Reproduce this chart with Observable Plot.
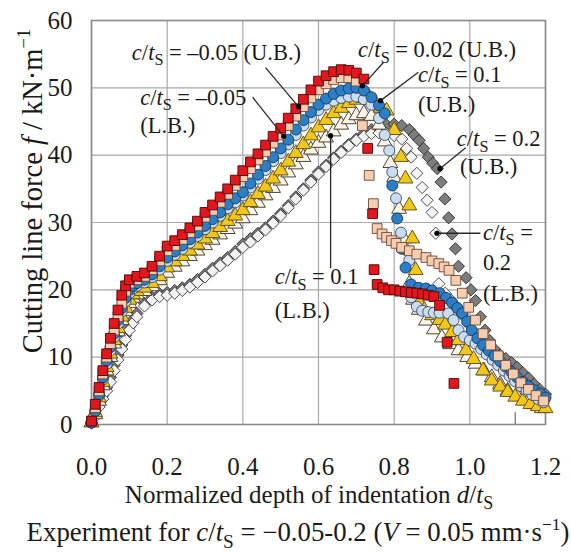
<!DOCTYPE html>
<html><head><meta charset="utf-8">
<script src="https://cdn.jsdelivr.net/npm/d3@7"></script>
<script src="https://cdn.jsdelivr.net/npm/@observablehq/plot@0.6"></script>
<style>body{margin:0;background:#fff}text{white-space:pre}</style>
</head><body><div id="chart"></div>
<script>
// ---- axis ticks ----
const xTicks = [0, 0.2, 0.4, 0.6, 0.8, 1.0, 1.2];
const yTicks = [0, 10, 20, 30, 40, 50, 60];

// ---- series values: [d/tS, f (kN/m)] ----
const ubNeg005 = [[0,0.5],[0.01,3],[0.02,5.5],[0.03,8],[0.04,10.5],[0.05,12.8],[0.06,15],[0.07,17],[0.08,19.2],[0.09,20.6],[0.1,21.5],[0.12,22],[0.14,22.5],[0.16,23.5],[0.18,25],[0.2,26.5],[0.22,27.3],[0.24,28.2],[0.26,29.2],[0.28,30.2],[0.3,31.5],[0.32,32.6],[0.34,33.8],[0.36,35],[0.38,36.3],[0.4,37.7],[0.42,39],[0.44,40.2],[0.46,41.5],[0.48,42.8],[0.5,44],[0.52,45.5],[0.54,46.9],[0.56,48.3],[0.58,49.7],[0.6,51],[0.62,51.8],[0.64,52.4],[0.66,52.7],[0.68,52.6],[0.7,52.2],[0.72,51.3],[0.73,41],[0.743,31.3],[0.747,23],[0.755,20.8],[0.77,20.3],[0.785,20],[0.8,20],[0.815,19.8],[0.83,19.7],[0.845,19.6],[0.86,19.5],[0.875,19.4],[0.89,19.2],[0.905,19],[0.92,17.7],[0.94,12.2],[0.958,6.1]];
const lbNeg005 = [[0,0.5],[0.01,2.5],[0.02,5],[0.03,7.5],[0.04,10],[0.05,12],[0.06,14],[0.07,16],[0.08,18],[0.09,19.8],[0.1,21],[0.12,21.5],[0.14,22],[0.16,23],[0.18,24.3],[0.2,25.8],[0.22,26.6],[0.24,27.5],[0.26,28.5],[0.28,29.5],[0.3,30.8],[0.32,31.8],[0.34,33],[0.36,34.2],[0.38,35.5],[0.4,36.8],[0.42,38],[0.44,39.3],[0.46,40.5],[0.48,41.8],[0.5,43],[0.52,44.4],[0.54,45.8],[0.56,47.2],[0.58,48.5],[0.6,49.7],[0.62,50.6],[0.64,51.2],[0.66,51.5],[0.68,51.5],[0.7,51],[0.716,44.4],[0.734,37],[0.745,32.8],[0.755,29.1],[0.768,28.3],[0.78,27.8],[0.793,27.3],[0.805,26.9],[0.82,26.3],[0.84,25.8],[0.86,25.3],[0.884,24.8],[0.9,24.3],[0.918,23.9],[0.932,23.4],[0.945,22.9],[0.963,21.4],[0.98,19.5],[0.997,17.4],[1.015,15.5],[1.035,13.5],[1.055,11.8],[1.075,10.2],[1.095,8.8],[1.115,7.5],[1.135,6.2],[1.155,5.2],[1.175,4.3],[1.195,3.5]];
const ub002 = [[0,0.3],[0.01,2],[0.02,4.5],[0.03,7],[0.04,9.5],[0.05,11.5],[0.06,13.5],[0.07,15.5],[0.08,17.3],[0.09,18.8],[0.1,20],[0.11,20.6],[0.12,21],[0.14,21.5],[0.16,22.3],[0.18,23.5],[0.2,24.8],[0.22,25.7],[0.24,26.6],[0.26,27.5],[0.28,28.5],[0.3,29.5],[0.32,30.5],[0.34,31.5],[0.36,32.7],[0.38,33.6],[0.4,34.5],[0.42,35.8],[0.44,37.1],[0.46,38.4],[0.48,39.7],[0.5,41],[0.52,42.3],[0.54,43.8],[0.56,45.2],[0.58,46.4],[0.6,47.5],[0.62,48.4],[0.64,49.1],[0.66,49.6],[0.68,49.9],[0.7,50],[0.72,49.6],[0.74,48.6],[0.76,47.4],[0.775,46.2],[0.795,35.5],[0.808,30.6],[0.82,26.1],[0.83,23.3],[0.845,20.8],[0.865,20.3],[0.884,20.2],[0.9,19.9],[0.92,19.5],[0.937,18.8],[0.953,18.1],[0.967,17.3],[0.98,16.5],[0.993,15.3],[1.005,14],[1.02,12.8],[1.035,11.8],[1.05,11],[1.065,10.2],[1.08,9.4],[1.095,8.6],[1.11,7.8],[1.125,7],[1.14,6.3],[1.155,5.7],[1.17,5.1],[1.185,4.6],[1.2,4]];
const lb002 = [[0,0.3],[0.01,2],[0.02,4.3],[0.03,6.7],[0.04,9],[0.05,11],[0.06,13],[0.07,15],[0.08,16.8],[0.09,18.3],[0.1,19.5],[0.11,20.2],[0.12,20.6],[0.14,21.1],[0.16,21.9],[0.18,23],[0.2,24.3],[0.22,25.2],[0.24,26.1],[0.26,27],[0.28,28],[0.3,29],[0.32,30],[0.34,31],[0.36,32.1],[0.38,33],[0.4,34],[0.42,35.2],[0.44,36.5],[0.46,37.8],[0.48,39.1],[0.5,40.3],[0.52,41.6],[0.54,43],[0.56,44.4],[0.58,45.6],[0.6,46.7],[0.62,47.5],[0.64,48.1],[0.66,48.5],[0.68,48.7],[0.7,48.7],[0.72,48.3],[0.74,47.5],[0.76,45.5],[0.775,43],[0.787,40.7],[0.795,37.5],[0.805,33.6],[0.818,28.5],[0.83,26],[0.84,24.4],[0.845,18.9],[0.86,17.5],[0.874,16.9],[0.89,16.7],[0.905,16.6],[0.92,16.6],[0.943,16.5],[0.957,15.5],[0.97,14],[0.985,13],[1,12.5],[1.015,12],[1.03,11.2],[1.045,10.4],[1.06,9.6],[1.075,8.8],[1.09,8],[1.105,7.2],[1.12,6.4],[1.135,5.7],[1.15,5],[1.165,4.4],[1.18,3.8],[1.195,3.3]];
const ub01 = [[0,0.3],[0.01,1.8],[0.02,4],[0.03,6.3],[0.04,8.5],[0.05,10.5],[0.06,12.5],[0.07,14.3],[0.08,16],[0.09,17.3],[0.1,18.5],[0.11,19.3],[0.12,19.8],[0.14,20.3],[0.16,21],[0.18,22],[0.2,23.3],[0.22,24.2],[0.24,25],[0.26,25.8],[0.28,26.7],[0.3,27.6],[0.32,28.4],[0.34,29.3],[0.36,30.2],[0.38,31],[0.4,31.8],[0.42,33],[0.44,34.2],[0.46,35.3],[0.48,36.5],[0.5,37.7],[0.52,39],[0.54,40.3],[0.56,41.6],[0.58,42.9],[0.6,44.1],[0.62,45.2],[0.64,46.2],[0.66,47],[0.68,47.7],[0.7,48.2],[0.72,48.5],[0.735,48.5],[0.75,47.8],[0.765,47],[0.78,46.6],[0.8,43.7],[0.818,39.7],[0.83,36.5],[0.84,32.5],[0.848,27.6],[0.857,22.9],[0.866,18.1],[0.88,17],[0.9,16.2],[0.92,15.5],[0.935,14.8],[0.953,13.7],[0.97,12.5],[0.99,11],[1.01,9.7],[1.035,8],[1.058,6.5],[1.08,5.6],[1.1,4.8],[1.12,4.1],[1.14,3.5],[1.16,3],[1.18,2.7],[1.2,2.4]];
const lb01 = [[0,0.3],[0.01,1.5],[0.02,3.5],[0.03,5.8],[0.04,8],[0.05,10],[0.06,12],[0.07,13.8],[0.08,15.5],[0.09,16.8],[0.1,18],[0.11,18.8],[0.12,19.3],[0.14,19.8],[0.16,20.5],[0.18,21.4],[0.2,22.5],[0.22,23.4],[0.24,24.2],[0.26,25],[0.28,25.8],[0.3,26.6],[0.32,27.4],[0.34,28.2],[0.36,29],[0.38,29.8],[0.4,30.6],[0.42,31.8],[0.44,32.9],[0.46,34],[0.48,35.1],[0.5,36.2],[0.52,37.4],[0.54,38.6],[0.56,39.7],[0.58,40.8],[0.6,41.8],[0.62,42.6],[0.64,43.5],[0.66,44.5],[0.68,45.3],[0.7,45.9],[0.72,46.2],[0.74,45.8],[0.76,44.5],[0.775,42],[0.79,38.8],[0.8,36.7],[0.813,32],[0.826,27.6],[0.84,20.9],[0.85,18.5],[0.865,17],[0.884,15.4],[0.905,14.1],[0.926,12.9],[0.948,11.9],[0.97,11],[0.993,10],[1.015,9],[1.037,8],[1.058,7],[1.08,6],[1.1,5],[1.125,4.2],[1.147,3.6],[1.17,3],[1.19,2.4]];
const ub02 = [[0,0.3],[0.01,1.5],[0.02,3],[0.03,4.3],[0.04,5.5],[0.05,7],[0.06,8.8],[0.07,10.3],[0.08,11.8],[0.09,13.2],[0.1,14.5],[0.11,15.6],[0.12,16.5],[0.14,18],[0.16,18.9],[0.18,19.4],[0.2,19.6],[0.22,19.9],[0.24,20.3],[0.26,20.8],[0.28,21.5],[0.3,22.3],[0.32,23.2],[0.34,24],[0.36,24.8],[0.38,25.7],[0.4,26.8],[0.42,27.6],[0.44,28.4],[0.46,29.2],[0.48,30.2],[0.5,31.3],[0.52,32.5],[0.54,33.8],[0.56,35],[0.58,36.3],[0.6,37.5],[0.62,38.5],[0.64,39.6],[0.66,40.6],[0.68,41.6],[0.7,42.4],[0.72,43.2],[0.74,43.8],[0.76,44.2],[0.78,44.5],[0.8,44.6],[0.82,44.4],[0.84,43.8],[0.853,43],[0.866,42.2],[0.878,41],[0.89,39.7],[0.902,38.8],[0.914,38],[0.924,36],[0.934,33.5],[0.944,30.7],[0.953,28.3],[0.962,26.1],[0.97,23.5],[0.99,21.8],[1.003,20],[1.015,18.4],[1.028,16],[1.04,14],[1.052,12.5],[1.065,11.2],[1.08,10.3],[1.095,9.8],[1.11,9.2],[1.125,8.5],[1.14,7.7],[1.155,6.9],[1.17,6],[1.185,5.2],[1.2,4.5]];
const lb02 = [[0,0.2],[0.01,1.2],[0.02,2.6],[0.03,3.8],[0.04,5],[0.05,6.3],[0.06,8],[0.07,9.6],[0.08,11.2],[0.09,12.6],[0.1,14],[0.11,15.1],[0.12,16],[0.14,17.6],[0.16,18.5],[0.18,19],[0.2,19.2],[0.22,19.5],[0.24,19.9],[0.26,20.4],[0.28,21.1],[0.3,21.9],[0.32,22.8],[0.34,23.6],[0.36,24.4],[0.38,25.3],[0.4,26.3],[0.42,27.1],[0.44,28],[0.46,28.9],[0.48,29.9],[0.5,31],[0.52,32.2],[0.54,33.5],[0.56,34.8],[0.58,36],[0.6,37.2],[0.62,38.3],[0.64,39.4],[0.66,40.4],[0.68,41.4],[0.7,42.2],[0.72,42.8],[0.74,43.2],[0.76,43.3],[0.78,43.2],[0.8,42.9],[0.82,42.4],[0.833,41],[0.845,39.7],[0.86,37.3],[0.874,35.2],[0.887,33.3],[0.9,31.5],[0.91,28.4],[0.918,20.9],[0.935,19.5],[0.95,18.5],[0.965,17.5],[0.98,16.3],[0.995,15],[1.01,13.8],[1.025,12.7],[1.04,11.7],[1.055,10.7],[1.07,9.8],[1.085,9],[1.1,8.2],[1.115,7.4],[1.13,6.7],[1.145,6],[1.16,5.3],[1.175,4.6],[1.19,4]];

// ---- series styles (drawing order) ----
const seriesList = [
  {data: ub02,     symbol: "diamond2", fill: "#7c7c7c", stroke: "#2e2e2e"},
  {data: lb02,     symbol: "diamond2", fill: "#f2f2f2", stroke: "#3a3a3a"},
  {data: lb01,     symbol: "triangle", fill: "#fbf4e8", stroke: "#3a3020"},
  {data: ub01,     symbol: "triangle", fill: "#f3c61c", stroke: "#5a4810"},
  {data: lb002,    symbol: "circle",   fill: "#c9dcf0", stroke: "#3a4a5a"},
  {data: ub002,    symbol: "circle",   fill: "#2a7fc6", stroke: "#17375a"},
  {data: lbNeg005, symbol: "square",   fill: "#f7cdb0", stroke: "#6a4838"},
  {data: ubNeg005, symbol: "square",   fill: "#e3161d", stroke: "#4a0808"}
];

// ---- leader lines (data units) ----
const leaders = [
  {x1: 0.46, y1: 53.0, x2: 0.547, y2: 47.2},
  {x1: 0.426, y1: 48.6, x2: 0.508, y2: 42.8},
  {x1: 0.772, y1: 53.8, x2: 0.716, y2: 50.3},
  {x1: 0.864, y1: 52.3, x2: 0.764, y2: 48.1},
  {x1: 0.989, y1: 41.1, x2: 0.921, y2: 38.0},
  {x1: 1.028, y1: 28.4, x2: 0.913, y2: 28.4},
  {x1: 0.632, y1: 23.2, x2: 0.632, y2: 42.9}
];
const marker112 = [1.12];

// ---- annotations: position in data units, text parts ----
const CT = [["c","i"],["/",""],["t","i"],["S","sub"]];
const annotations = [
  {x: 0.108, y: 54.1, parts: [...CT, [" = –0.05 (U.B.)",""]]},
  {x: 0.13,  y: 47.4, parts: [...CT, [" = –0.05",""]]},
  {x: 0.13,  y: 43.2, parts: [["(L.B.)",""]]},
  {x: 0.706, y: 54.5, parts: [...CT, [" = 0.02 (U.B.)",""]]},
  {x: 0.864, y: 50.8, parts: [...CT, [" = 0.1",""]]},
  {x: 0.864, y: 46.4, parts: [["(U.B.)",""]]},
  {x: 0.967, y: 41.3, parts: [...CT, [" = 0.2",""]]},
  {x: 0.975, y: 37.1, parts: [["(U.B.)",""]]},
  {x: 1.036, y: 27.4, parts: [...CT, [" =",""]]},
  {x: 1.036, y: 22.9, parts: [["0.2",""]]},
  {x: 1.036, y: 18.2, parts: [["(L.B.)",""]]},
  {x: 0.486, y: 20.8, parts: [...CT, [" = 0.1",""]]},
  {x: 0.486, y: 15.7, parts: [["(L.B.)",""]]}
];

const FONT = "'Liberation Serif', 'DejaVu Serif', serif";
const R = 5.5;

const chart = Plot.plot({
  width: 571, height: 554,
  marginLeft: 91, marginRight: 26, marginTop: 20, marginBottom: 130,
  style: {fontFamily: FONT, fontSize: "25px", color: "#1a1a1a", background: "white"},
  x: {domain: [0, 1.2], label: null},
  y: {domain: [0, 60], label: null},
  marks: [
    Plot.gridX(xTicks, {stroke: "#a8a8a8", strokeOpacity: 1, strokeWidth: 1.2}),
    Plot.gridY(yTicks, {stroke: "#a8a8a8", strokeOpacity: 1, strokeWidth: 1.2}),
    Plot.frame({stroke: "#8a8a8a", strokeWidth: 1.6}),
    Plot.ruleX(marker112, {y1: 0, y2: 1.8, stroke: "#555", strokeWidth: 1}),
    ...seriesList.map(s => Plot.dot(s.data, {
      x: d => d[0], y: d => d[1], symbol: () => s.symbol, r: R,
      fill: s.fill, stroke: s.stroke, strokeWidth: 0.9
    })),
    Plot.link(leaders, {x1: "x1", y1: "y1", x2: "x2", y2: "y2", stroke: "#2a2a2a", strokeWidth: 1.3}),
    Plot.dot(leaders, {x: "x2", y: "y2", r: 2.6, fill: "#000", stroke: "none"}),
    Plot.axisX(xTicks, {tickSize: 0, tickPadding: 33, tickFormat: d => d.toFixed(1), label: null, fontFamily: FONT}),
    Plot.axisY(yTicks, {tickSize: 0, tickPadding: 19, label: null, fontFamily: FONT})
  ]
});
document.getElementById("chart").appendChild(chart);

const svg = d3.select(chart);
const sx = chart.scale("x"), sy = chart.scale("y");

function richText(parent, x, y, parts, size, anchor) {
  const t = parent.append("text").attr("x", x).attr("y", y)
    .style("font-size", size + "px").style("font-family", FONT).attr("fill", "#1a1a1a")
    .attr("text-anchor", anchor || "start");
  let shift = 0;
  for (const [str, st] of parts) {
    const ts = t.append("tspan").text(str);
    let target = 0;
    if (st === "sub") { target = size * 0.25; ts.style("font-size", (size * 0.72) + "px"); }
    else if (st === "sup") { target = -size * 0.42; ts.style("font-size", (size * 0.65) + "px"); }
    else if (st === "i") ts.style("font-style", "italic");
    if (target !== shift) { ts.attr("dy", target - shift); shift = target; }
  }
  return t;
}

const ann = svg.append("g");
for (const a of annotations) richText(ann, sx.apply(a.x), sy.apply(a.y), a.parts, 22.5, "start");

// axis titles & caption
richText(svg, 309, 503, [["Normalized depth of indentation ",""],["d","i"],["/",""],["t","i"],["S","sub"]], 25, "middle");
const yl = svg.append("g").attr("transform", "translate(42,191) rotate(-90)");
richText(yl, 0, 0, [["Cutting line force ",""],["f","i"],[" / kN·m",""],["−1","sup"]], 28.5, "middle");
richText(svg, 298, 541, [["Experiment for ",""],["c","i"],["/",""],["t","i"],["S","sub"],[" = −0.05-0.2 (",""],["V","i"],[" = 0.05 mm·s",""],["−1","sup"],[")",""]], 26.8, "middle");
</script>
</body></html>
